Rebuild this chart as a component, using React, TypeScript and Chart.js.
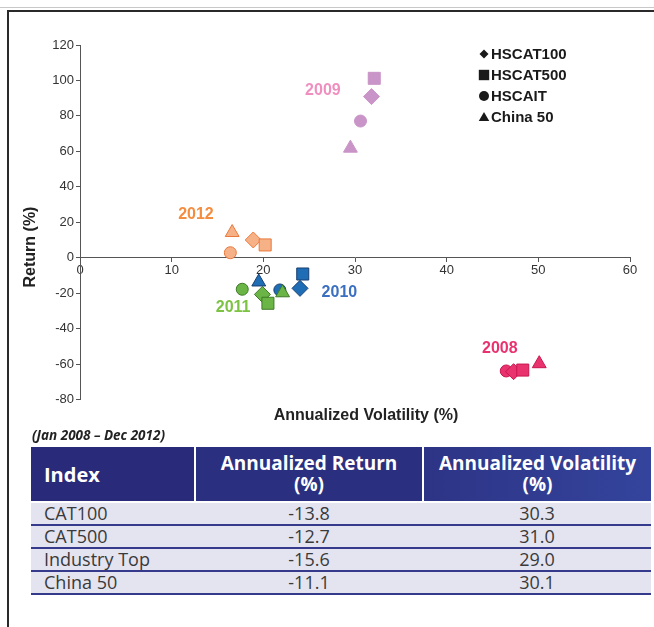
import { useEffect, useRef } from "react";
import { Chart, registerables } from "chart.js";

Chart.register(...registerables);

// Calendar years plotted, one colour each
const years = ["2008", "2009", "2010", "2011", "2012"];
const yearFill = ["#e8336f", "#c994c7", "#1f6db5", "#6ab546", "#f6b187"];
const yearBorder = ["#c8174f", "#c994c7", "#173e70", "#3f7a26", "#e9793c"];
const yearLabelColor = ["#e8336f", "#f08fbf", "#3b6fc0", "#7cc243", "#f58d3f"];
// where each year's caption sits (volatility, return)
const yearLabelX = [45.8, 26.5, 28.3, 16.7, 12.65];
const yearLabelY = [-51.5, 94.0, -19.9, -27.9, 24.1];

// Indexes, one marker shape each
const indexNames = ["HSCAT100", "HSCAT500", "HSCAIT", "China 50"];
const indexStyles = ["rectRot", "rect", "circle", "triangle"];
const indexRadii = [8, 8.5, 6, 8];
const indexOrder = [3, 2, 4, 1];

// Annualized volatility (%) and return (%) by year, 2008..2012
const cat100Vol = [47.3, 31.8, 24.0, 19.9, 18.9];
const cat100Ret = [-64.3, 90.9, -17.3, -20.7, 10.0];
const cat500Vol = [48.3, 32.1, 24.3, 20.5, 20.2];
const cat500Ret = [-63.4, 101.2, -9.2, -25.7, 7.2];
const aitVol = [46.5, 30.6, 21.8, 17.7, 16.4];
const aitRet = [-63.9, 77.1, -18.2, -17.8, 2.8];
const china50Vol = [50.1, 29.5, 19.5, 22.1, 16.6];
const china50Ret = [-59.8, 61.8, -13.7, -19.8, 14.2];

const volSeries = [cat100Vol, cat500Vol, aitVol, china50Vol];
const retSeries = [cat100Ret, cat500Ret, aitRet, china50Ret];

// Summary table (Jan 2008 - Dec 2012)
const tableIndex = ["CAT100", "CAT500", "Industry Top", "China 50"];
const tableReturn = ["-13.8", "-12.7", "-15.6", "-11.1"];
const tableVolatility = ["30.3", "31.0", "29.0", "30.1"];

const AXIS_FONT = "'Liberation Sans', Arial, sans-serif";

function drawMarker(ctx: CanvasRenderingContext2D, style: string, x: number, y: number, r: number) {
  ctx.beginPath();
  if (style === "rectRot") {
    ctx.moveTo(x - r, y);
    ctx.lineTo(x, y - r);
    ctx.lineTo(x + r, y);
    ctx.lineTo(x, y + r);
    ctx.closePath();
  } else if (style === "rect") {
    ctx.rect(x - r, y - r, 2 * r, 2 * r);
  } else if (style === "circle") {
    ctx.arc(x, y, r, 0, Math.PI * 2);
  } else {
    ctx.moveTo(x, y - r);
    ctx.lineTo(x + r * 1.05, y + r * 0.8);
    ctx.lineTo(x - r * 1.05, y + r * 0.8);
    ctx.closePath();
  }
  ctx.fill();
}

const annotations = {
  id: "annotations",
  afterDatasetsDraw(chart: any) {
    const { ctx, scales } = chart;
    const xs = scales.x;
    const ys = scales.y;
    ctx.save();
    // year captions
    ctx.font = `bold 16px ${AXIS_FONT}`;
    ctx.textAlign = "center";
    ctx.textBaseline = "middle";
    years.forEach((yr, i) => {
      ctx.fillStyle = yearLabelColor[i];
      ctx.fillText(yr, xs.getPixelForValue(yearLabelX[i]), ys.getPixelForValue(yearLabelY[i]));
    });
    // axis titles
    ctx.fillStyle = "#222";
    ctx.font = `bold 16px ${AXIS_FONT}`;
    ctx.fillText("Annualized Volatility (%)", 366, 416);
    ctx.save();
    ctx.translate(31, 247);
    ctx.rotate(-Math.PI / 2);
    ctx.fillText("Return (%)", 0, 0);
    ctx.restore();
    // shape key
    ctx.textAlign = "left";
    ctx.font = `bold 15px ${AXIS_FONT}`;
    const keyR = [4.5, 5.2, 5, 5];
    indexNames.forEach((name, i) => {
      const y = 54 + i * 21;
      ctx.fillStyle = "#1a1a1a";
      drawMarker(ctx, indexStyles[i], 484, y, keyR[i]);
      ctx.fillText(name, 491, y + 1);
    });
    ctx.restore();
  },
};

function RiskReturnChart() {
  const ref = useRef<HTMLCanvasElement | null>(null);
  useEffect(() => {
    if (!ref.current) return;
    const datasets = indexNames.map((name, i) => ({
      label: name,
      data: years.map((_, j) => ({ x: volSeries[i][j], y: retSeries[i][j] })),
      pointStyle: indexStyles[i],
      pointRadius: indexRadii[i],
      backgroundColor: yearFill,
      borderColor: yearBorder,
      borderWidth: 1,
      order: indexOrder[i],
    }));
    const tickFont = { family: AXIS_FONT, size: 13 };
    const chart = new Chart(ref.current, {
      type: "scatter",
      data: { datasets },
      options: {
        animation: false,
        responsive: false,
        maintainAspectRatio: false,
        layout: { padding: { left: 0, top: 45, right: 24, bottom: 30.5 } },
        plugins: { legend: { display: false }, tooltip: { enabled: false } },
        scales: {
          x: {
            type: "linear",
            min: 0,
            max: 60,
            position: { y: 0 } as any,
            ticks: { stepSize: 10, color: "#333", font: tickFont, padding: 1 },
            grid: { drawOnChartArea: false, tickLength: 4, color: "#555" },
            border: { color: "#555", width: 1 },
            afterFit: (s: any) => {
              s.height = 0;
            },
          },
          y: {
            type: "linear",
            min: -80,
            max: 120,
            ticks: { stepSize: 20, color: "#333", font: tickFont, padding: 2 },
            grid: { drawOnChartArea: false, tickLength: 4, color: "#555" },
            border: { color: "#555", width: 1 },
            afterFit: (s: any) => {
              s.width = 80;
            },
          },
        },
      },
      plugins: [annotations],
    } as any);
    return () => chart.destroy();
  }, []);
  return (
    <canvas
      ref={ref}
      width={654}
      height={430}
      style={{ position: "absolute", left: 0, top: 0, width: 654, height: 430 }}
    />
  );
}

const cellFont = "'Open Sans', 'Noto Sans', sans-serif";

export default function App() {
  const headCell: React.CSSProperties = {
    color: "#fff",
    fontWeight: 700,
    fontSize: 19,
    lineHeight: "21px",
    textAlign: "center",
    borderRight: "2px solid #fff",
    borderBottom: "2px solid #fff",
    padding: 0,
  };
  const bodyCell: React.CSSProperties = {
    fontSize: 18,
    lineHeight: "21px",
    color: "#3a3a3a",
    textAlign: "center",
    padding: 0,
    height: 21,
    borderBottom: "2px solid #353a8c",
  };
  return (
    <div
      style={{
        position: "absolute",
        left: 0,
        top: 0,
        width: 654,
        height: 627,
        overflow: "hidden",
        background: "#fff",
      }}
    >
      <div style={{ position: "absolute", left: 0, top: 7, width: 654, height: 1, background: "#c8c8c8" }} />
      <div
        style={{
          position: "absolute",
          left: 7,
          top: 10,
          width: 720,
          height: 700,
          border: "2px solid #2a2a2a",
          boxSizing: "border-box",
        }}
      />
      <RiskReturnChart />
      <div
        style={{
          position: "absolute",
          left: 32,
          top: 426,
          fontFamily: cellFont,
          fontStyle: "italic",
          fontWeight: 700,
          fontSize: 13.5,
          color: "#222",
        }}
      >
        (Jan 2008 – Dec 2012)
      </div>
      <table
        style={{
          position: "absolute",
          left: 31,
          top: 447,
          width: 620,
          borderCollapse: "collapse",
          fontFamily: cellFont,
          tableLayout: "fixed",
        }}
      >
        <colgroup>
          <col style={{ width: 164 }} />
          <col style={{ width: 228 }} />
          <col style={{ width: 228 }} />
        </colgroup>
        <thead>
          <tr style={{ background: "linear-gradient(90deg, #29297a 0%, #2c3282 55%, #33429a 100%)", height: 55 }}>
            <th style={{ ...headCell, background: "#292a7a", textAlign: "left", paddingLeft: 13, fontSize: 20 }}>Index</th>
            <th style={{ ...headCell, background: "#2b2f80" }}>
              Annualized Return
              <br />
              (%)
            </th>
            <th style={{ ...headCell, background: "linear-gradient(90deg, #2d3486 0%, #34449c 100%)", borderRight: "none" }}>
              Annualized Volatility
              <br />
              (%)
            </th>
          </tr>
        </thead>
        <tbody>
          {tableIndex.map((name, i) => (
            <tr key={name} style={{ background: "#e4e4f0" }}>
              <td style={{ ...bodyCell, textAlign: "left", paddingLeft: 13 }}>{name}</td>
              <td style={bodyCell}>{tableReturn[i]}</td>
              <td style={bodyCell}>{tableVolatility[i]}</td>
            </tr>
          ))}
        </tbody>
      </table>
    </div>
  );
}
